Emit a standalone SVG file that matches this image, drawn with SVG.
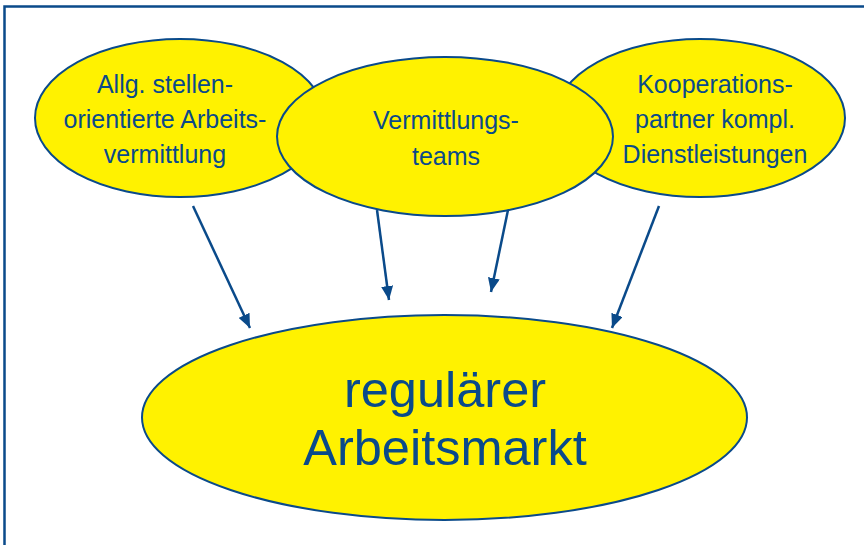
<svg xmlns="http://www.w3.org/2000/svg" width="864" height="545" viewBox="0 0 864 545">
<style>
.n{fill:#fff200;stroke:#0a4a8a;stroke-width:2}
.t{font-family:"Liberation Sans",Arial,sans-serif;fill:#0a4a8a;text-anchor:middle}
.s{font-size:25px}
.b{font-size:50.5px}
.c{stroke:#0a4a8a;stroke-width:2.5;fill:none;marker-end:url(#ah)}
</style>
<defs>
<marker id="ah" markerUnits="userSpaceOnUse" viewBox="0 0 14 12" refX="14" refY="6" markerWidth="14" markerHeight="12" orient="auto">
<path d="M0,0 L14,6 L0,12 Z" fill="#0a4a8a"/>
</marker>
</defs>
<rect x="4.5" y="6.5" width="880" height="560" fill="#fff" stroke="#0a4a8a" stroke-width="2.5"/>
<g id="node-left">
<ellipse class="n" cx="180" cy="118" rx="145" ry="79"/>
<text class="t s" x="165" y="93">Allg. stellen-</text>
<text class="t s" x="165" y="128">orientierte Arbeits-</text>
<text class="t s" x="165" y="163">vermittlung</text>
</g>
<g id="node-right">
<ellipse class="n" cx="700" cy="118" rx="145" ry="79"/>
<text class="t s" x="715" y="93">Kooperations-</text>
<text class="t s" x="715" y="128">partner kompl.</text>
<text class="t s" x="715" y="163">Dienstleistungen</text>
</g>
<g id="node-middle">
<ellipse class="n" cx="445" cy="136.5" rx="168" ry="79.5"/>
<text class="t s" x="446" y="129">Vermittlungs-</text>
<text class="t s" x="446" y="165">teams</text>
</g>
<g id="node-bottom">
<ellipse class="n" cx="444.5" cy="417.5" rx="302.5" ry="102.5"/>
<text class="t b" x="445" y="407">regulärer</text>
<text class="t b" x="445" y="465">Arbeitsmarkt</text>
</g>
<g id="connectors">
<line class="c" x1="193" y1="206" x2="250" y2="328"/>
<line class="c" x1="377" y1="210" x2="389" y2="300"/>
<line class="c" x1="508" y1="210" x2="491" y2="292"/>
<line class="c" x1="659" y1="206" x2="612" y2="328"/>
</g>
</svg>
